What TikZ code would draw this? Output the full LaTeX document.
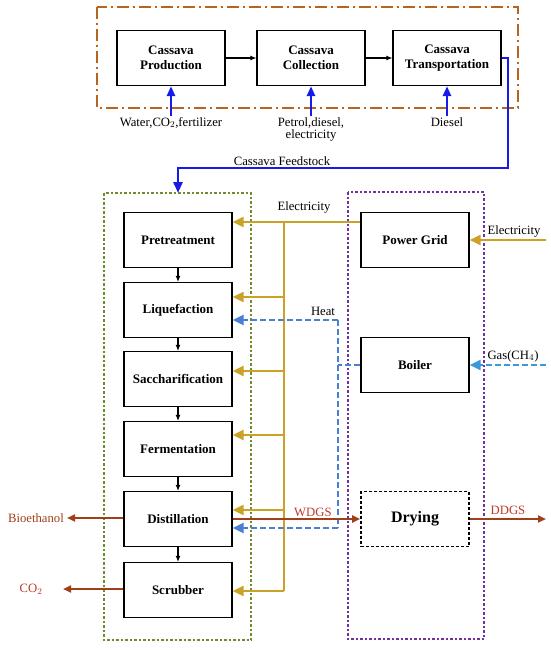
\documentclass[tikz,border=0pt]{standalone}
\usepackage{fontspec}
\setmainfont{Liberation Serif}
\usetikzlibrary{arrows.meta}
\definecolor{frameBrown}{HTML}{B5651D}
\definecolor{stageGreen}{HTML}{6E8B2E}
\definecolor{utilPurple}{HTML}{7030A0}
\definecolor{elecGold}{HTML}{C9A227}
\definecolor{heatBlue}{HTML}{4A80D0}
\definecolor{gasBlue}{HTML}{3A9AD9}
\definecolor{feedBlue}{HTML}{1A1AE6}
\definecolor{outBrown}{HTML}{A0401A}
\definecolor{outRed}{HTML}{C0392B}

\begin{document}
\begin{tikzpicture}[x=1pt,y=-1pt,
  box/.style={draw, line width=1.2pt, minimum width=108pt, minimum height=55pt,
    align=center, inner sep=1pt, font=\bfseries\fontsize{13}{15}\selectfont},
  lbl/.style={font=\fontsize{12.7}{13}\selectfont, align=center, inner sep=1pt},
  flow/.style={-{Latex[length=6pt,width=5pt]}, line width=1.1pt},
  inBlue/.style={-{Triangle[length=10pt,width=8pt]}, feedBlue, line width=2.6pt},
  elecLine/.style={elecGold, line width=2.6pt},
  elecArrow/.style={elecLine, -{Triangle[length=11pt,width=10pt]}},
  heatLine/.style={heatBlue, line width=2.6pt, dash pattern=on 6pt off 3pt},
  heatArrow/.style={heatLine, -{Triangle[length=11pt,width=10pt]}},
  outArrow/.style={outBrown, line width=2.4pt, -{Triangle[length=8pt,width=7pt]}}]
  \useasboundingbox (0,0) rectangle (550,650);

  % Cassava supply chain
  \draw[frameBrown, line width=2pt, dash pattern=on 12pt off 4pt on 2pt off 4pt]
    (97,7) rectangle (518,108);
  \node[box] (prod)  at (171,58) {Cassava\\Production};
  \node[box] (coll)  at (311,58) {Cassava\\Collection};
  \node[box] (trans) at (447,58) {Cassava\\Transportation};
  \draw[flow] (prod) -- (coll);
  \draw[flow] (coll) -- (trans);

  \coordinate (prodIn)  at (171,116);
  \coordinate (collIn)  at (311,116);
  \coordinate (transIn) at (447,116);
  \draw[inBlue] (prodIn) -- (prod.south);
  \draw[inBlue] (collIn) -- (coll.south);
  \draw[inBlue] (transIn) -- (trans.south);
  \node[lbl, below] at (prodIn) {Water,CO$_2$,fertilizer};
  \node[lbl, below, font=\fontsize{12.7}{12}\selectfont] at (collIn) {Petrol,diesel,\\electricity};
  \node[lbl, below] at (transIn) {Diesel};

  % Feedstock to the plant
  \coordinate (feedTurn) at (508,168);
  \coordinate (feedEnd)  at (178,193);
  \draw[inBlue, -{Triangle[length=11pt,width=9pt]}] (trans.east) -| (feedTurn) -| (feedEnd);
  \node[lbl, above] at (282,167) {Cassava Feedstock};

  % Ethanol plant
  \draw[stageGreen, line width=1.5pt, dash pattern=on 2.5pt off 2pt] (104,193) rectangle (251,640);
  \foreach \name/\text/\y in {pre/Pretreatment/240, liq/Liquefaction/310,
      sac/Saccharification/379, fer/Fermentation/449, dis/Distillation/519, scr/Scrubber/590}
    \node[box] (\name) at (178,\y) {\text};
  \draw[flow] (pre) -- (liq);
  \draw[flow] (liq) -- (sac);
  \draw[flow] (sac) -- (fer);
  \draw[flow] (fer) -- (dis);
  \draw[flow] (dis) -- (scr);

  % Utilities
  \draw[utilPurple, line width=1.5pt, dash pattern=on 2.5pt off 2pt] (348,192) rectangle (484,639);
  \node[box] (grid) at (415,240) {Power Grid};
  \node[box] (boil) at (415,365) {Boiler};
  \node[box, dash pattern=on 3pt off 2pt, line width=1.8pt,
    font=\bfseries\fontsize{16}{18}\selectfont] (dry) at (415,519) {Drying};

  % Electricity
  \coordinate (busTop) at (284,222);
  \coordinate (busBot) at (284,591);
  \draw[elecLine] (grid.west |- busTop) -- (busTop) -- (busBot);
  \draw[elecArrow] (busTop) -- (pre.east |- busTop);
  \foreach \name/\y in {liq/297, sac/371, fer/435, dis/510, scr/591} {
    \coordinate (tap\name) at (284,\y);
    \draw[elecArrow] (tap\name) -- (\name.east |- tap\name);
  }
  \node[lbl, above] at (304,214) {Electricity};
  \coordinate (elecIn) at (546,240);
  \draw[elecArrow] (elecIn) -- (grid.east);
  \node[lbl, above] at (514,238) {Electricity};

  % Heat
  \coordinate (heatTop) at (338,320);
  \coordinate (heatBot) at (338,528);
  \draw[heatLine] (boil.west) -- (boil.west -| heatTop);
  \draw[heatLine] (heatTop) -- (heatBot);
  \draw[heatArrow] (heatTop) -- (liq.east |- heatTop);
  \draw[heatArrow] (heatBot) -- (dis.east |- heatBot);
  \node[lbl, above] at (323,317) {Heat};
  \coordinate (gasIn) at (546,365);
  \draw[heatArrow, gasBlue] (gasIn) -- (boil.east);
  \node[lbl, above] at (513,363) {Gas(CH$_4$)};

  % Products
  \draw[outArrow] (dis.east) -- (dry.west) node[pos=0.63, above, lbl, outRed] {WDGS};
  \coordinate (ddgsOut) at (546,519);
  \draw[outArrow] (dry.east) -- (ddgsOut);
  \node[lbl, above, outRed] at (508,516) {DDGS};
  \coordinate (bioOut) at (67,518);
  \draw[outArrow] (dis.west |- bioOut) -- (bioOut);
  \node[lbl, left, outBrown] at ([xshift=-2pt]bioOut) {Bioethanol};
  \coordinate (co2Out) at (63,589);
  \draw[outArrow] (scr.west |- co2Out) -- (co2Out);
  \node[lbl, outRed] at (31,589) {CO$_2$};
\end{tikzpicture}
\end{document}
